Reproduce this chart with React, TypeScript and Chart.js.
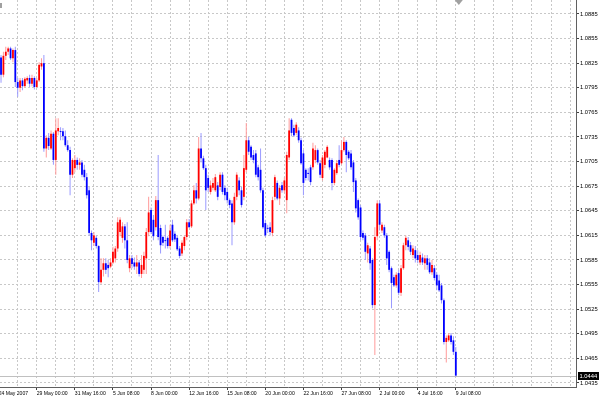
import React, { useEffect, useRef } from "react";
import { Chart, registerables } from "chart.js";

Chart.register(...registerables);

// EURUSD-like H4 bars
const opens = [
  1.0832, 1.0811, 1.0834, 1.0839, 1.0843, 1.0831, 1.0841, 1.0802, 1.0795, 1.0804, 1.0797, 1.0804,
  1.0807, 1.0800, 1.0807, 1.0796, 1.0804, 1.0821, 1.0825, 1.0721, 1.0734, 1.0721, 1.0739, 1.0707,
  1.0742, 1.0742, 1.0742, 1.0736, 1.0725, 1.0719, 1.0689, 1.0697, 1.0707, 1.0701, 1.0704, 1.0695,
  1.0686, 1.0670, 1.0618, 1.0606, 1.0612, 1.0602, 1.0558, 1.0573, 1.0581, 1.0579, 1.0577, 1.0582,
  1.0587, 1.0599, 1.0619, 1.0612, 1.0626, 1.0609, 1.0575, 1.0587, 1.0582, 1.0577, 1.0582, 1.0568,
  1.0573, 1.0587, 1.0619, 1.0646, 1.0634, 1.0625, 1.0658, 1.0624, 1.0613, 1.0609, 1.0612, 1.0602,
  1.0628, 1.0617, 1.0612, 1.0599, 1.0593, 1.0602, 1.0613, 1.0631, 1.0626, 1.0654, 1.0670, 1.0660,
  1.0721, 1.0709, 1.0697, 1.0685, 1.0668, 1.0673, 1.0670, 1.0676, 1.0674, 1.0689, 1.0673, 1.0668,
  1.0658, 1.0654, 1.0631, 1.0662, 1.0682, 1.0670, 1.0662, 1.0695, 1.0731, 1.0723, 1.0713, 1.0715,
  1.0698, 1.0695, 1.0670, 1.0630, 1.0624, 1.0625, 1.0618, 1.0662, 1.0679, 1.0660, 1.0676, 1.0670,
  1.0658, 1.0710, 1.0756, 1.0746, 1.0740, 1.0743, 1.0731, 1.0715, 1.0695, 1.0691, 1.0698, 1.0698,
  1.0707, 1.0719, 1.0703, 1.0685, 1.0701, 1.0710, 1.0707, 1.0707, 1.0679, 1.0691, 1.0707, 1.0703,
  1.0719, 1.0729, 1.0717, 1.0715, 1.0704, 1.0682, 1.0658, 1.0649, 1.0618, 1.0615, 1.0593, 1.0599,
  1.0585, 1.0530, 1.0614, 1.0654, 1.0621, 1.0625, 1.0615, 1.0595, 1.0575, 1.0564, 1.0554, 1.0569,
  1.0545, 1.0575, 1.0603, 1.0609, 1.0603, 1.0591, 1.0597, 1.0591, 1.0582, 1.0588, 1.0581, 1.0587,
  1.0582, 1.0570, 1.0575, 1.0567, 1.0560, 1.0554, 1.0536, 1.0485, 1.0487, 1.0493, 1.0487, 1.0473,
];
const highs = [
  1.0835, 1.0839, 1.0845, 1.0845, 1.0845, 1.0843, 1.0845, 1.0807, 1.0807, 1.0807, 1.0808, 1.0809,
  1.0811, 1.0811, 1.0809, 1.0807, 1.0826, 1.0831, 1.0835, 1.0737, 1.0740, 1.0743, 1.0741, 1.0758,
  1.0758, 1.0747, 1.0746, 1.0743, 1.0731, 1.0723, 1.0709, 1.0713, 1.0710, 1.0709, 1.0707, 1.0701,
  1.0691, 1.0674, 1.0621, 1.0619, 1.0615, 1.0603, 1.0587, 1.0587, 1.0587, 1.0585, 1.0587, 1.0601,
  1.0602, 1.0637, 1.0637, 1.0631, 1.0629, 1.0631, 1.0591, 1.0591, 1.0588, 1.0591, 1.0585, 1.0591,
  1.0595, 1.0624, 1.0662, 1.0649, 1.0640, 1.0663, 1.0713, 1.0628, 1.0615, 1.0628, 1.0614, 1.0628,
  1.0634, 1.0620, 1.0615, 1.0602, 1.0609, 1.0615, 1.0635, 1.0635, 1.0658, 1.0676, 1.0679, 1.0735,
  1.0740, 1.0712, 1.0701, 1.0689, 1.0682, 1.0685, 1.0690, 1.0680, 1.0692, 1.0692, 1.0676, 1.0673,
  1.0660, 1.0658, 1.0667, 1.0692, 1.0686, 1.0674, 1.0713, 1.0752, 1.0735, 1.0725, 1.0719, 1.0719,
  1.0701, 1.0721, 1.0673, 1.0634, 1.0628, 1.0631, 1.0662, 1.0689, 1.0682, 1.0676, 1.0680, 1.0686,
  1.0717, 1.0758, 1.0758, 1.0750, 1.0753, 1.0747, 1.0734, 1.0719, 1.0697, 1.0697, 1.0701, 1.0728,
  1.0725, 1.0721, 1.0707, 1.0713, 1.0719, 1.0725, 1.0710, 1.0709, 1.0697, 1.0707, 1.0725, 1.0731,
  1.0735, 1.0731, 1.0719, 1.0719, 1.0707, 1.0685, 1.0660, 1.0652, 1.0621, 1.0618, 1.0606, 1.0602,
  1.0587, 1.0625, 1.0658, 1.0658, 1.0631, 1.0628, 1.0618, 1.0597, 1.0577, 1.0567, 1.0570, 1.0573,
  1.0579, 1.0606, 1.0615, 1.0613, 1.0607, 1.0603, 1.0602, 1.0597, 1.0595, 1.0593, 1.0591, 1.0591,
  1.0587, 1.0585, 1.0579, 1.0570, 1.0567, 1.0557, 1.0538, 1.0493, 1.0496, 1.0496, 1.0492, 1.0479,
];
const lows = [
  1.0801, 1.0808, 1.0829, 1.0835, 1.0829, 1.0826, 1.0796, 1.0784, 1.0790, 1.0792, 1.0795, 1.0800,
  1.0796, 1.0797, 1.0793, 1.0795, 1.0802, 1.0817, 1.0717, 1.0710, 1.0719, 1.0719, 1.0701, 1.0689,
  1.0737, 1.0731, 1.0731, 1.0723, 1.0717, 1.0664, 1.0685, 1.0692, 1.0695, 1.0695, 1.0686, 1.0682,
  1.0660, 1.0615, 1.0597, 1.0602, 1.0599, 1.0546, 1.0556, 1.0565, 1.0568, 1.0564, 1.0575, 1.0580,
  1.0582, 1.0595, 1.0614, 1.0606, 1.0599, 1.0581, 1.0570, 1.0575, 1.0573, 1.0568, 1.0565, 1.0563,
  1.0568, 1.0568, 1.0614, 1.0617, 1.0609, 1.0621, 1.0609, 1.0593, 1.0602, 1.0599, 1.0599, 1.0599,
  1.0607, 1.0607, 1.0596, 1.0587, 1.0590, 1.0597, 1.0609, 1.0624, 1.0624, 1.0652, 1.0654, 1.0658,
  1.0704, 1.0695, 1.0646, 1.0668, 1.0665, 1.0670, 1.0668, 1.0658, 1.0670, 1.0665, 1.0658, 1.0654,
  1.0648, 1.0603, 1.0628, 1.0658, 1.0664, 1.0649, 1.0658, 1.0692, 1.0713, 1.0707, 1.0703, 1.0686,
  1.0682, 1.0667, 1.0623, 1.0613, 1.0618, 1.0615, 1.0614, 1.0658, 1.0658, 1.0652, 1.0667, 1.0667,
  1.0642, 1.0707, 1.0736, 1.0735, 1.0737, 1.0728, 1.0701, 1.0664, 1.0682, 1.0682, 1.0676, 1.0695,
  1.0703, 1.0701, 1.0685, 1.0682, 1.0697, 1.0709, 1.0695, 1.0670, 1.0676, 1.0689, 1.0698, 1.0701,
  1.0717, 1.0692, 1.0707, 1.0695, 1.0668, 1.0643, 1.0634, 1.0609, 1.0609, 1.0585, 1.0582, 1.0573,
  1.0526, 1.0469, 1.0609, 1.0621, 1.0618, 1.0612, 1.0579, 1.0570, 1.0526, 1.0552, 1.0551, 1.0542,
  1.0541, 1.0573, 1.0597, 1.0597, 1.0591, 1.0587, 1.0582, 1.0581, 1.0579, 1.0579, 1.0573, 1.0573,
  1.0568, 1.0567, 1.0560, 1.0548, 1.0546, 1.0532, 1.0482, 1.0460, 1.0485, 1.0482, 1.0469, 1.0443,
];
const closes = [
  1.0811, 1.0834, 1.0839, 1.0843, 1.0831, 1.0841, 1.0802, 1.0795, 1.0804, 1.0797, 1.0806, 1.0807,
  1.0800, 1.0807, 1.0796, 1.0804, 1.0823, 1.0825, 1.0721, 1.0734, 1.0724, 1.0739, 1.0707, 1.0743,
  1.0746, 1.0741, 1.0736, 1.0725, 1.0719, 1.0689, 1.0707, 1.0707, 1.0701, 1.0704, 1.0689, 1.0686,
  1.0664, 1.0618, 1.0609, 1.0615, 1.0602, 1.0558, 1.0573, 1.0581, 1.0573, 1.0575, 1.0582, 1.0595,
  1.0599, 1.0631, 1.0634, 1.0626, 1.0609, 1.0585, 1.0587, 1.0580, 1.0577, 1.0582, 1.0568, 1.0579,
  1.0590, 1.0619, 1.0643, 1.0619, 1.0614, 1.0658, 1.0613, 1.0603, 1.0606, 1.0608, 1.0602, 1.0621,
  1.0609, 1.0610, 1.0598, 1.0590, 1.0606, 1.0613, 1.0631, 1.0625, 1.0654, 1.0670, 1.0660, 1.0721,
  1.0709, 1.0697, 1.0670, 1.0673, 1.0676, 1.0679, 1.0686, 1.0662, 1.0689, 1.0668, 1.0664, 1.0658,
  1.0652, 1.0631, 1.0662, 1.0689, 1.0670, 1.0652, 1.0697, 1.0731, 1.0717, 1.0710, 1.0707, 1.0689,
  1.0686, 1.0670, 1.0625, 1.0615, 1.0623, 1.0619, 1.0658, 1.0686, 1.0660, 1.0673, 1.0670, 1.0682,
  1.0713, 1.0743, 1.0740, 1.0737, 1.0750, 1.0731, 1.0703, 1.0679, 1.0685, 1.0690, 1.0680, 1.0721,
  1.0719, 1.0704, 1.0689, 1.0710, 1.0717, 1.0723, 1.0698, 1.0679, 1.0695, 1.0703, 1.0701, 1.0719,
  1.0729, 1.0713, 1.0709, 1.0698, 1.0680, 1.0648, 1.0637, 1.0613, 1.0612, 1.0595, 1.0603, 1.0581,
  1.0530, 1.0613, 1.0654, 1.0628, 1.0628, 1.0615, 1.0587, 1.0573, 1.0557, 1.0554, 1.0567, 1.0545,
  1.0575, 1.0603, 1.0612, 1.0601, 1.0595, 1.0599, 1.0587, 1.0585, 1.0591, 1.0582, 1.0587, 1.0579,
  1.0570, 1.0579, 1.0563, 1.0554, 1.0548, 1.0536, 1.0485, 1.0490, 1.0493, 1.0485, 1.0473, 1.0444,
];

// time-axis labels and the bar index each one belongs to
const timeLabels = [
  "24 May 2007", "29 May 00:00", "31 May 16:00", "5 Jun 08:00", "8 Jun 00:00", "12 Jun 16:00",
  "15 Jun 08:00", "20 Jun 00:00", "22 Jun 16:00", "27 Jun 08:00", "2 Jul 00:00", "4 Jul 16:00",
  "9 Jul 08:00",
];
const labelBars = [-1, 15, 31, 47, 63, 79, 95, 111, 127, 143, 159, 175, 191];

// price-axis ticks
const priceTicks = [
  1.0435, 1.0465, 1.0495, 1.0525, 1.0555, 1.0585, 1.0615, 1.0645,
  1.0675, 1.0705, 1.0735, 1.0765, 1.0795, 1.0825, 1.0855, 1.0885,
];
const lastPrice = 1.0444;

const BULL = "#ff0000";
const BEAR = "#0000ff";
const BULL_WICK = "#ff9a9a";
const BEAR_WICK = "#9a9aff";

export default function App() {
  const ref = useRef<HTMLCanvasElement>(null);

  useEffect(() => {
    if (!ref.current) return;
    const n = closes.length;
    const isUp = (i: number) => closes[i] > opens[i];

    const wickData = opens.map((_, i) => ({ x: i, y: [lows[i], highs[i]] }));
    const bodyData = opens.map((_, i) => ({
      x: i,
      y: [Math.min(opens[i], closes[i]), Math.max(opens[i], closes[i])],
    }));

    const gridVals: number[] = [];
    for (let v = -1; v <= 241; v += 8) gridVals.push(v);
    const labelOf = new Map<number, string>();
    labelBars.forEach((b, k) => labelOf.set(b, timeLabels[k]));

    const overlay = {
      id: "overlay",
      beforeDatasetsDraw(chart: any) {
        const { ctx, chartArea, scales } = chart;
        const y = Math.round(scales.y.getPixelForValue(lastPrice)) + 0.5;
        ctx.save();
        ctx.strokeStyle = "#c0c0c0";
        ctx.lineWidth = 1;
        ctx.beginPath();
        ctx.moveTo(chartArea.left, y);
        ctx.lineTo(chartArea.right, y);
        ctx.stroke();
        ctx.restore();
      },
      afterDraw(chart: any) {
        const { ctx, chartArea, scales } = chart;
        const y = scales.y.getPixelForValue(lastPrice);
        ctx.save();
        ctx.fillStyle = "#000000";
        ctx.fillRect(chartArea.right + 2, Math.round(y) - 4, 21, 8);
        ctx.fillStyle = "#ffffff";
        ctx.font = '5.8px "Liberation Sans"';
        ctx.textBaseline = "middle";
        ctx.textAlign = "left";
        ctx.fillText(lastPrice.toFixed(4), chartArea.right + 3.5, Math.round(y));
        // chart-shift marker
        const sx = scales.x.getPixelForValue(n - 1) + 3;
        ctx.fillStyle = "#a0a0a0";
        ctx.beginPath();
        ctx.moveTo(sx - 4, 0);
        ctx.lineTo(sx + 4, 0);
        ctx.lineTo(sx, 5);
        ctx.closePath();
        ctx.fill();
        ctx.fillRect(0, 3, 2, 5);
        ctx.restore();
      },
    };

    const chart = new Chart(ref.current, {
      type: "bar",
      data: {
        datasets: [
          {
            data: bodyData as any,
            backgroundColor: opens.map((_, i) => (isUp(i) ? BULL : BEAR)),
            barThickness: 1.8,
            minBarLength: 1,
            grouped: false,
            order: 1,
            borderWidth: 0,
            inflateAmount: 0,
          } as any,
          {
            data: wickData as any,
            backgroundColor: opens.map((_, i) => (isUp(i) ? BULL_WICK : BEAR_WICK)),
            barThickness: 1,
            grouped: false,
            order: 2,
            borderWidth: 0,
            inflateAmount: 0,
          } as any,
        ],
      },
      options: {
        animation: false,
        responsive: false,
        maintainAspectRatio: false,
        devicePixelRatio: 1,
        layout: { padding: 0 },
        plugins: { legend: { display: false }, tooltip: { enabled: false } },
        scales: {
          x: {
            type: "linear",
            position: "bottom",
            min: -0.433,
            max: 241.48,
            offset: false,
            afterBuildTicks: (s: any) => {
              s.ticks = gridVals.map((v) => ({ value: v }));
            },
            afterFit: (s: any) => {
              s.height = 13;
              s.paddingLeft = 0;
              s.paddingRight = 0;
              s.paddingTop = 0;
              s.paddingBottom = 0;
            },
            grid: {
              color: "#c8c8c8",
              lineWidth: 1,
              offset: false,
              drawTicks: true,
              tickLength: 3,
              tickColor: (ctx: any) =>
                ctx.tick && labelOf.has(ctx.tick.value) ? "#404040" : "rgba(0,0,0,0)",
            },
            border: { display: true, color: "#606060", width: 1, dash: [2, 2] },
            ticks: {
              autoSkip: false,
              maxRotation: 0,
              minRotation: 0,
              align: "start",
              padding: 1,
              color: "#000000",
              font: { family: "Liberation Sans", size: 5.1 },
              callback: (v: any) => labelOf.get(Number(v)) ?? "",
            },
          } as any,
          y: {
            type: "linear",
            position: "right",
            min: 1.04301,
            max: 1.090207,
            beginAtZero: false,
            afterBuildTicks: (s: any) => {
              s.ticks = priceTicks.map((v) => ({ value: v }));
            },
            afterFit: (s: any) => {
              s.width = 24;
              s.paddingLeft = 0;
              s.paddingRight = 0;
              s.paddingTop = 0;
              s.paddingBottom = 0;
            },
            grid: {
              color: "#c8c8c8",
              lineWidth: 1,
              drawTicks: true,
              tickLength: 3,
              tickColor: "#404040",
            },
            border: { display: true, color: "#606060", width: 1, dash: [2, 2] },
            ticks: {
              padding: 1,
              color: "#000000",
              font: { family: "Liberation Sans", size: 5.8 },
              callback: (v: any) => Number(v).toFixed(4),
            },
          } as any,
        },
      },
      plugins: [overlay],
    });
    return () => chart.destroy();
  }, []);

  return (
    <div
      style={{
        position: "fixed",
        left: 0,
        top: 0,
        width: 600,
        height: 400,
        background: "#ffffff",
      }}
    >
      <canvas ref={ref} width={600} height={400} style={{ display: "block" }} />
    </div>
  );
}
